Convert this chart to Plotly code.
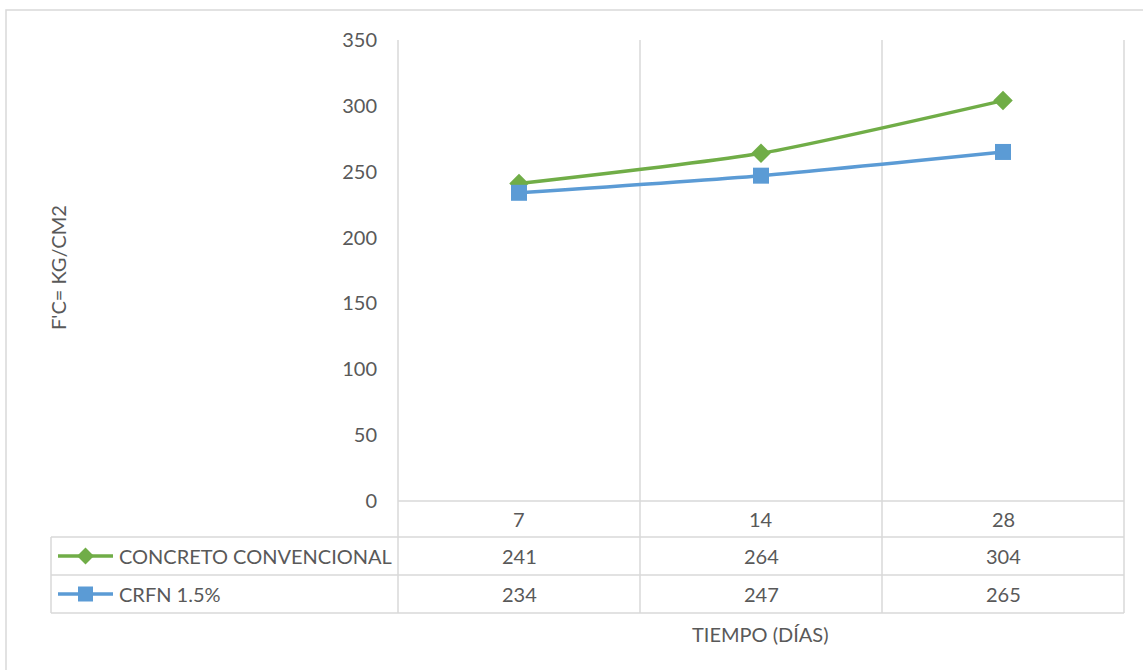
import plotly.graph_objects as go

categories = ["7", "14", "28"]
series_names = ["CONCRETO CONVENCIONAL", "CRFN 1.5%"]
concreto = [241, 264, 304]
crfn = [234, 247, 265]
y_ticks = [0, 50, 100, 150, 200, 250, 300, 350]

W, H = 1143, 670
FONT = "Lato"
TXT = "#595959"
GRID = "#d9d9d9"
GREEN = "#70AD47"
BLUE = "#5B9BD5"

def px(p):
    return p / W

def py(p):
    return 1 - p / H

X0, X1 = 398, 1124
Y0, Y1 = 40, 501

fig = go.Figure()
xs = list(range(len(categories)))
fig.add_trace(go.Scatter(x=xs, y=concreto, mode="lines+markers", name=series_names[0],
                         line=dict(color=GREEN, width=3.5, shape="spline", smoothing=0.6),
                         marker=dict(symbol="diamond", size=15, color=GREEN), cliponaxis=False))
fig.add_trace(go.Scatter(x=xs, y=crfn, mode="lines+markers", name=series_names[1],
                         line=dict(color=BLUE, width=3.5, shape="spline", smoothing=0.6),
                         marker=dict(symbol="square", size=16, color=BLUE), cliponaxis=False))

# legend keys in table (overlay axis in pixel coords)
row_y = [556, 594]
for name, col, sym, sz, yy in [(series_names[0], GREEN, "diamond", 13, row_y[0]),
                               (series_names[1], BLUE, "square", 15, row_y[1])]:
    fig.add_trace(go.Scatter(x=[58, 113], y=[yy, yy], mode="lines", line=dict(color=col, width=3.5),
                             xaxis="x2", yaxis="y2", showlegend=False, hoverinfo="skip"))
    fig.add_trace(go.Scatter(x=[85.5], y=[yy], mode="markers", marker=dict(symbol=sym, size=sz, color=col),
                             xaxis="x2", yaxis="y2", showlegend=False, hoverinfo="skip"))

shapes = []
# outer border
shapes.append(dict(type="rect", xref="paper", yref="paper", x0=px(6), x1=px(1150), y0=py(10), y1=py(680),
                   line=dict(color=GRID, width=1.5), layer="below"))
# horizontal lines
shapes.append(dict(type="line", xref="paper", yref="paper", x0=px(X0), x1=px(X1), y0=py(Y1), y1=py(Y1),
                   line=dict(color=GRID, width=1.5), layer="below"))
for yy in [537, 575, 613]:
    shapes.append(dict(type="line", xref="paper", yref="paper", x0=px(51), x1=px(X1), y0=py(yy), y1=py(yy),
                       line=dict(color=GRID, width=1.5), layer="below"))
# vertical lines
shapes.append(dict(type="line", xref="paper", yref="paper", x0=px(51), x1=px(51), y0=py(537), y1=py(613),
                   line=dict(color=GRID, width=1.5), layer="below"))
for i in range(len(categories) + 1):
    xv = px(X0 + (X1 - X0) * i / len(categories))
    shapes.append(dict(type="line", xref="paper", yref="paper", x0=xv, x1=xv, y0=py(Y0), y1=py(613),
                       line=dict(color=GRID, width=1.5), layer="below"))

annotations = []
row_vals = [concreto, crfn]
fnt = dict(family=FONT, size=20, color=TXT)
for i, c in enumerate(categories):
    cx = px(X0 + (X1 - X0) * (i + 0.5) / len(categories))
    annotations.append(dict(x=cx, y=py(519), xref="paper", yref="paper", text=c, showarrow=False,
                            xanchor="center", yanchor="middle", font=fnt))
    for r, vals in enumerate(row_vals):
        annotations.append(dict(x=cx, y=py(row_y[r]), xref="paper", yref="paper", text=str(vals[i]),
                                showarrow=False, xanchor="center", yanchor="middle", font=fnt))
for r, name in enumerate(series_names):
    annotations.append(dict(x=px(117), y=py(row_y[r]), xref="paper", yref="paper", text=name,
                            xanchor="left", yanchor="middle", showarrow=False, font=fnt))
annotations.append(dict(x=px(58), y=py(268), xref="paper", yref="paper", text="F'C= KG/CM2", textangle=-90,
                        xanchor="center", yanchor="middle", showarrow=False, font=fnt))
annotations.append(dict(x=px(760), y=py(634), xref="paper", yref="paper", text="TIEMPO (DÍAS)",
                        xanchor="center", yanchor="middle", showarrow=False, font=fnt))

fig.update_layout(
    template="none",
    width=W, height=H, margin=dict(l=0, r=0, t=0, b=0, pad=0, autoexpand=False),
    paper_bgcolor="white", plot_bgcolor="rgba(0,0,0,0)", showlegend=False,
    xaxis=dict(domain=[px(X0), px(X1)], range=[-0.5, len(categories) - 0.5], showgrid=False,
               zeroline=False, showticklabels=False, showline=False, ticks="", fixedrange=True,
               automargin=False),
    yaxis=dict(domain=[py(Y1), py(Y0)], range=[0, 350], tickvals=y_ticks, showgrid=False, zeroline=False,
               showline=False, ticks="", ticklabelstandoff=20, automargin=False, fixedrange=True,
               tickfont=fnt),
    xaxis2=dict(domain=[0, 1], range=[0, W], visible=False, anchor="y2", fixedrange=True, automargin=False),
    yaxis2=dict(domain=[0, 1], range=[H, 0], visible=False, anchor="x2", fixedrange=True, automargin=False),
    shapes=shapes, annotations=annotations,
)
fig.write_html("out.html")
